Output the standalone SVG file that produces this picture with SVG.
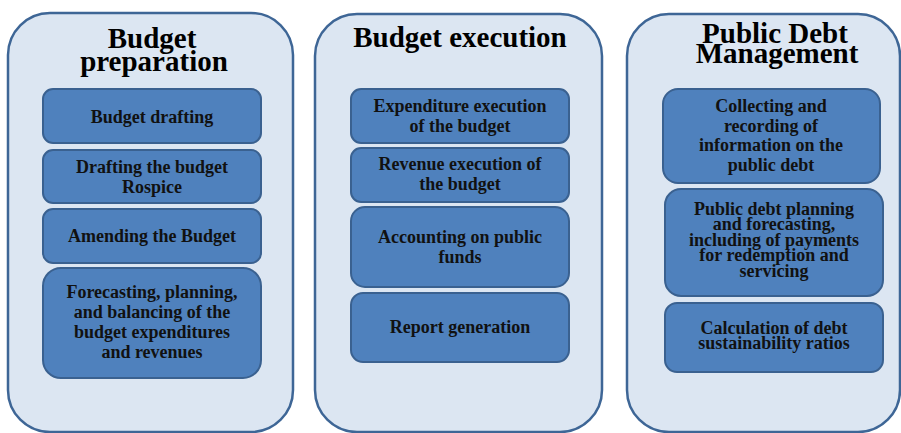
<svg xmlns="http://www.w3.org/2000/svg" width="901" height="433" viewBox="0 0 901 433">
<style>
.panel{fill:#dce6f2;stroke:#3e6696;stroke-width:2.5}
.box{fill:#4f81bd;stroke:#3a6190;stroke-width:2}
.title{font-family:"Liberation Serif","Times New Roman",serif;font-weight:bold;font-size:29px;fill:#000;text-anchor:middle}
.lbl{font-family:"Liberation Serif","Times New Roman",serif;font-weight:bold;font-size:18px;fill:#111;text-anchor:middle}
</style>
<rect width="901" height="433" fill="#ffffff"/>
<g id="panel-preparation">
<rect class="panel" x="8" y="13" width="285" height="419" rx="42"/>
<text class="title" x="152" y="48">Budget</text>
<text class="title" x="154" y="71">preparation</text>
</g>
<g id="panel-execution">
<rect class="panel" x="315" y="14" width="287" height="418" rx="42"/>
<text class="title" x="460" y="47">Budget execution</text>
</g>
<g id="panel-debt">
<rect class="panel" x="627" y="14" width="273" height="418" rx="42"/>
<text class="title" x="775" y="43">Public Debt</text>
<text class="title" x="777" y="63">Management</text>
</g>
<g id="budget-drafting">
<rect class="box" x="43" y="89" width="218" height="54" rx="10"/>
<text class="lbl" x="152" y="123">Budget drafting</text>
</g>
<g id="drafting-rospice">
<rect class="box" x="43" y="150" width="218" height="53" rx="10"/>
<text class="lbl" x="152" y="173">Drafting the budget</text>
<text class="lbl" x="152" y="193">Rospice</text>
</g>
<g id="amending">
<rect class="box" x="43" y="209" width="218" height="54" rx="10"/>
<text class="lbl" x="152" y="242">Amending the Budget</text>
</g>
<g id="forecasting">
<rect class="box" x="43" y="268" width="218" height="110" rx="18"/>
<text class="lbl" x="152" y="298">Forecasting, planning,</text>
<text class="lbl" x="152" y="318">and balancing of the</text>
<text class="lbl" x="152" y="338">budget expenditures</text>
<text class="lbl" x="152" y="358">and revenues</text>
</g>
<g id="expenditure-execution">
<rect class="box" x="351" y="89" width="218" height="54" rx="10"/>
<text class="lbl" x="460" y="112">Expenditure execution</text>
<text class="lbl" x="460" y="132">of the budget</text>
</g>
<g id="revenue-execution">
<rect class="box" x="351" y="148" width="218" height="54" rx="10"/>
<text class="lbl" x="460" y="170">Revenue execution of</text>
<text class="lbl" x="460" y="190">the budget</text>
</g>
<g id="accounting">
<rect class="box" x="351" y="207" width="218" height="80" rx="14"/>
<text class="lbl" x="460" y="243">Accounting on public</text>
<text class="lbl" x="460" y="263">funds</text>
</g>
<g id="report">
<rect class="box" x="351" y="293" width="218" height="69" rx="12"/>
<text class="lbl" x="460" y="333">Report generation</text>
</g>
<g id="collecting">
<rect class="box" x="663" y="89" width="217" height="94" rx="15"/>
<text class="lbl" x="771" y="112">Collecting and</text>
<text class="lbl" x="771" y="132">recording of</text>
<text class="lbl" x="771" y="151">information on the</text>
<text class="lbl" x="771" y="171">public debt</text>
</g>
<g id="debt-planning">
<rect class="box" x="665" y="189" width="218" height="107" rx="16"/>
<text class="lbl" x="774" y="215">Public debt planning</text>
<text class="lbl" x="774" y="230">and forecasting,</text>
<text class="lbl" x="774" y="246">including of payments</text>
<text class="lbl" x="774" y="261">for redemption and</text>
<text class="lbl" x="774" y="277">servicing</text>
</g>
<g id="sustainability">
<rect class="box" x="665" y="303" width="218" height="69" rx="12"/>
<text class="lbl" x="774" y="334">Calculation of debt</text>
<text class="lbl" x="774" y="349">sustainability ratios</text>
</g>
<g id="connectors"></g>
</svg>
